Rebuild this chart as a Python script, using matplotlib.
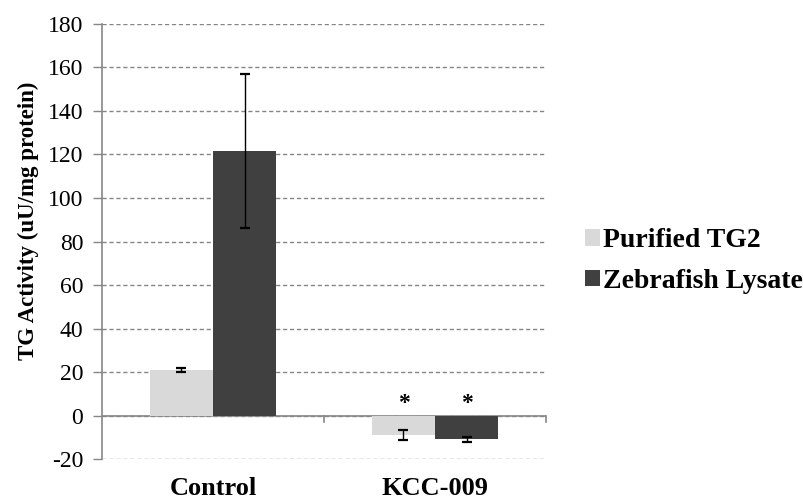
import matplotlib
matplotlib.use("Agg")
import matplotlib.pyplot as plt
from matplotlib.patches import Patch
import numpy as np

plt.rcParams['font.family'] = ['Liberation Serif', 'DejaVu Serif']

categories = ["Control", "KCC-009"]
series_names = ["Purified TG2", "Zebrafish Lysate"]
purified = [21, -9]
purified_err = [1, 2.2]
lysate = [121.5, -11]
lysate_err = [35.5, 1]
significant = [[False, True], [False, True]]
yticks = [-20, 0, 20, 40, 60, 80, 100, 120, 140, 160, 180]

colors = ["#d9d9d9", "#404040"]
grid_gray = "#868686"

fig = plt.figure(figsize=(8.04, 4.99), dpi=100)
ax = fig.add_axes([0.1269, 0.080, 0.5522, 0.872])

x = np.arange(len(categories))
w = 0.284
series = [(purified, purified_err), (lysate, lysate_err)]
for i, (vals, errs) in enumerate(series):
    pos = x + (i - 0.5) * w
    ax.bar(pos, vals, width=w, color=colors[i], zorder=2, label=series_names[i])
    ax.errorbar(pos, vals, yerr=errs, fmt='none', ecolor='black',
                elinewidth=1.0, capsize=3.5, capthick=1.6, zorder=3)
    for p, v, s in zip(pos, vals, significant[i]):
        if s:
            ax.text(p, 0.5, "*", ha='center', va='bottom', fontsize=17,
                    fontweight='bold')

ax.set_xlim(-0.5, 1.5)
ax.set_ylim(-20, 180)
ax.set_yticks(yticks)
ax.set_yticklabels([str(t) for t in yticks], fontsize=17)
ax.yaxis.grid(True, linestyle=(0, (3, 2)), color=grid_gray, linewidth=1.0, zorder=0)
ax.set_axisbelow(True)

for s in ['top', 'right', 'bottom']:
    ax.spines[s].set_visible(False)
ax.spines['left'].set_color(grid_gray)
ax.spines['left'].set_linewidth(1.2)
ax.tick_params(axis='y', length=6.5, color=grid_gray, width=1.0, pad=7)

# baseline at zero with category-boundary ticks
ax.axhline(0, color=grid_gray, linewidth=1.2, zorder=1)
for b in [0.5, 1.5]:
    ax.plot([b, b], [0, -3], color=grid_gray, linewidth=1.2, zorder=1,
            clip_on=False)

ax.set_xticks(x)
ax.set_xticklabels(categories, fontsize=19, fontweight='bold')
ax.tick_params(axis='x', length=0, pad=13)

ax.set_ylabel("TG Activity (uU/mg protein)", fontsize=16.5, fontweight='bold',
              labelpad=6, y=0.547)

handles = [Patch(facecolor=c) for c in colors]
fig.legend(handles, series_names, loc='center left',
           bbox_to_anchor=(0.7137, 0.477), frameon=False, borderaxespad=0,
           borderpad=0.4,
           prop={'size': 20, 'weight': 'bold', 'family': 'Liberation Serif'},
           handlelength=0.54, handleheight=0.54, handletextpad=0.11,
           labelspacing=0.55)

fig.savefig("out.png", dpi=100)
